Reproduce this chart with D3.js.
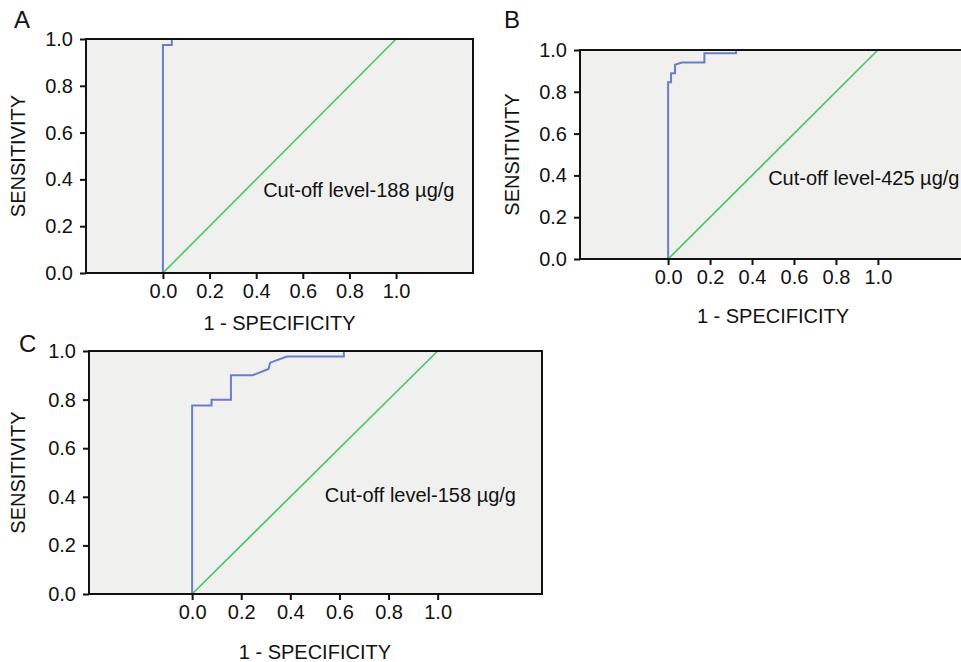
<!DOCTYPE html>
<html>
<head>
<meta charset="utf-8">
<script src="https://cdn.jsdelivr.net/npm/d3@7"></script>
<style>
    body { margin: 0; background: #fff; }
    text { font-family: "Liberation Sans", Arial, sans-serif; fill: #111; }
</style>
</head>
<body>
<div id="viz"></div>
<script>
// ROC curves (1 - specificity, sensitivity)
let fprA = [0, 0, 0.038, 0.038];
let tprA = [0, 0.974, 0.974, 1.0];

let fprB = [0, 0, 0.014, 0.014, 0.033, 0.033, 0.065, 0.173, 0.173, 0.324, 0.324];
let tprB = [0, 0.846, 0.846, 0.889, 0.889, 0.929, 0.94, 0.94, 0.984, 0.984, 1.0];

let fprC = [0, 0, 0.079, 0.079, 0.158, 0.158, 0.246, 0.311, 0.318, 0.386, 0.618, 0.618];
let tprC = [0, 0.776, 0.776, 0.799, 0.799, 0.900, 0.900, 0.926, 0.952, 0.977, 0.977, 1.0];

let refLine = [0, 1];
let yTicks = [0, 0.2, 0.4, 0.6, 0.8, 1.0];
let xTicks = [0, 0.2, 0.4, 0.6, 0.8, 1.0];
let panelLetters = ["A", "B", "C"];
let cutoffLabels = ["Cut-off level-188 \u00b5g/g", "Cut-off level-425 \u00b5g/g", "Cut-off level-158 \u00b5g/g"];

// layout of each panel (frame box + x domain)
let layout = [
    {x0: 86, x1: 473, y0: 39, y1: 273, dom: [-0.33, 1.33], lx: 14, ly: 28, tx: 0.43, ty: 0.36, yt: 18, xt: 57},
    {x0: 580, x1: 966, y0: 50, y1: 259, dom: [-0.42, 1.42], lx: 504, ly: 28, tx: 0.477, ty: 0.39, yt: 512, xt: 64},
    {x0: 89, x1: 542, y0: 351, y1: 594, dom: [-0.42, 1.425], lx: 19, ly: 352, tx: 0.54, ty: 0.41, yt: 18, xt: 65}
];
let series = [[fprA, tprA], [fprB, tprB], [fprC, tprC]];

let svg = d3.select("#viz")
    .append("svg")
    .attr("width", 961)
    .attr("height", 662);

layout.forEach((p, i) => {
    let x = d3.scaleLinear().domain(p.dom).range([p.x0, p.x1]);
    let y = d3.scaleLinear().domain([0, 1]).range([p.y1, p.y0]);
    let g = svg.append("g");

    g.append("rect")
        .attr("x", p.x0).attr("y", p.y0)
        .attr("width", p.x1 - p.x0).attr("height", p.y1 - p.y0)
        .attr("fill", "#f0f0ef");

    // diagonal reference
    g.append("line")
        .attr("x1", x(refLine[0])).attr("y1", y(refLine[0]))
        .attr("x2", x(refLine[1])).attr("y2", y(refLine[1]))
        .attr("stroke", "#4fc46c")
        .attr("stroke-width", 1.7);

    let pts = series[i][0].map((v, k) => [v, series[i][1][k]]);
    g.append("path")
        .datum(pts)
        .attr("fill", "none")
        .attr("stroke", "#6a7ec8")
        .attr("stroke-width", 2)
        .attr("d", d3.line().x(d => x(d[0])).y(d => y(d[1])));

    g.append("rect")
        .attr("x", p.x0).attr("y", p.y0)
        .attr("width", p.x1 - p.x0).attr("height", p.y1 - p.y0)
        .attr("fill", "none")
        .attr("stroke", "#111")
        .attr("stroke-width", 2);

    let yAxis = g.append("g")
        .attr("transform", "translate(" + p.x0 + ",0)")
        .call(d3.axisLeft(y).tickValues(yTicks).tickFormat(d3.format(".1f")).tickSize(6).tickPadding(7));
    let xAxis = g.append("g")
        .attr("transform", "translate(0," + p.y1 + ")")
        .call(d3.axisBottom(x).tickValues(xTicks).tickFormat(d3.format(".1f")).tickSize(6).tickPadding(5));
    [yAxis, xAxis].forEach(a => {
        a.select(".domain").remove();
        a.selectAll("line").attr("stroke", "#111").attr("stroke-width", 2);
        a.selectAll("text")
            .style("font-family", "'Liberation Sans', Arial, sans-serif")
            .style("font-size", "20px")
            .attr("fill", "#111");
    });

    g.append("text")
        .attr("x", x(0.5))
        .attr("y", p.y1 + p.xt)
        .attr("text-anchor", "middle")
        .style("font-size", "20px")
        .text("1 - SPECIFICITY");

    g.append("text")
        .attr("transform", "translate(" + (p.yt + 7) + "," + ((p.y0 + p.y1) / 2) + ") rotate(-90)")
        .attr("text-anchor", "middle")
        .style("font-size", "20px")
        .text("SENSITIVITY");

    g.append("text")
        .attr("x", x(p.tx))
        .attr("y", y(p.ty) + 8)
        .style("font-size", "20px")
        .text(cutoffLabels[i]);

    g.append("text")
        .attr("x", p.lx)
        .attr("y", p.ly)
        .style("font-size", "24px")
        .text(panelLetters[i]);
});
</script>
</body>
</html>
